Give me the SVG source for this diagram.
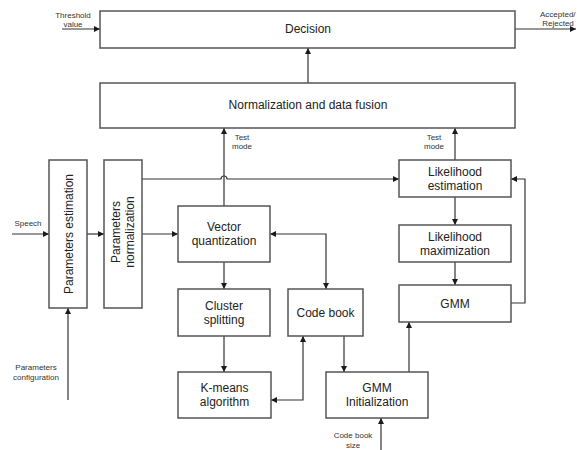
<svg xmlns="http://www.w3.org/2000/svg" width="577" height="450" viewBox="0 0 577 450">
  <defs>
    <marker id="arrow" viewBox="0 0 10 10" refX="10" refY="5" markerWidth="6" markerHeight="6" markerUnits="userSpaceOnUse" orient="auto-start-reverse">
      <path d="M0,0 L10,5 L0,10 Z" fill="#1a1a1a"/>
    </marker>
    <style>
      .box { fill: #ffffff; stroke: #555555; stroke-width: 1.5; }
      .line { fill: none; stroke: #333333; stroke-width: 1.2; }
      .lbl { font-family: "Liberation Sans", Arial, sans-serif; font-size: 12px; fill: #222222; text-anchor: middle; }
      .sm { font-family: "Liberation Sans", Arial, sans-serif; font-size: 8px; fill: #333333; text-anchor: middle; }
    </style>
  </defs>
  <rect width="577" height="450" fill="#ffffff"/>

  <!-- connectors -->
  <g id="connectors">
    <path class="line" d="M62,29 H100" marker-end="url(#arrow)"/>
    <path class="line" d="M515,29 H576" marker-end="url(#arrow)"/>
    <path class="line" d="M308,83 V48" marker-end="url(#arrow)"/>
    <path class="line" d="M224,206 V128" marker-end="url(#arrow)"/>
    <path class="line" d="M455,160 V128" marker-end="url(#arrow)"/>
    <path class="line" d="M12,234 H49" marker-end="url(#arrow)"/>
    <path class="line" d="M87,234 H104" marker-end="url(#arrow)"/>
    <path class="line" d="M142,234 H178" marker-end="url(#arrow)"/>
    <path class="line" d="M142,179 H221 A3,3 0 0 1 227,179 H399" marker-end="url(#arrow)"/>
    <path class="line" d="M455,197 V225" marker-end="url(#arrow)"/>
    <path class="line" d="M455,262 V285" marker-end="url(#arrow)"/>
    <path class="line" d="M511,303 H525 V179 H511" marker-end="url(#arrow)"/>
    <path class="line" d="M270,234 H326 V289" marker-start="url(#arrow)" marker-end="url(#arrow)"/>
    <path class="line" d="M224,262 V289" marker-end="url(#arrow)"/>
    <path class="line" d="M224,336 V372" marker-end="url(#arrow)"/>
    <path class="line" d="M271,400 H303 V336" marker-start="url(#arrow)" marker-end="url(#arrow)"/>
    <path class="line" d="M344,336 V372" marker-end="url(#arrow)"/>
    <path class="line" d="M409,372 V322" marker-end="url(#arrow)"/>
    <path class="line" d="M381,450 V418" marker-end="url(#arrow)"/>
    <path class="line" d="M68,400 V308" marker-end="url(#arrow)"/>
  </g>

  <!-- free labels on connectors -->
  <g id="io-labels">
    <text class="sm" x="73" y="18">Threshold</text>
    <text class="sm" x="73" y="27">value</text>
    <text class="sm" x="540" y="17" style="text-anchor:start">Accepted/</text>
    <text class="sm" x="558" y="26">Rejected</text>
    <text class="sm" x="242" y="140">Test</text>
    <text class="sm" x="242" y="149">mode</text>
    <text class="sm" x="434" y="140">Test</text>
    <text class="sm" x="434" y="149">mode</text>
    <text class="sm" x="28" y="226">Speech</text>
    <text class="sm" x="36" y="370">Parameters</text>
    <text class="sm" x="36" y="380">configuration</text>
    <text class="sm" x="353" y="438">Code book</text>
    <text class="sm" x="353" y="448">size</text>
  </g>

  <g id="decision">
    <rect class="box" x="100" y="11" width="415" height="37"/>
    <text class="lbl" x="308" y="33">Decision</text>
  </g>
  <g id="fusion">
    <rect class="box" x="100" y="83" width="415" height="45"/>
    <text class="lbl" x="308" y="109">Normalization and data fusion</text>
  </g>
  <g id="param-estimation">
    <rect class="box" x="49" y="160" width="38" height="148"/>
    <text class="lbl" transform="translate(72.5,234) rotate(-90)">Parameters estimation</text>
  </g>
  <g id="param-normalization">
    <rect class="box" x="104" y="160" width="38" height="148"/>
    <text class="lbl" transform="translate(119.5,232) rotate(-90)">Parameters</text>
    <text class="lbl" transform="translate(134,232) rotate(-90)">normalization</text>
  </g>
  <g id="vector-quantization">
    <rect class="box" x="178" y="206" width="92" height="56"/>
    <text class="lbl" x="224" y="231">Vector</text>
    <text class="lbl" x="224" y="245">quantization</text>
  </g>
  <g id="cluster-splitting">
    <rect class="box" x="178" y="289" width="92" height="47"/>
    <text class="lbl" x="224" y="309.5">Cluster</text>
    <text class="lbl" x="224" y="323.5">splitting</text>
  </g>
  <g id="kmeans">
    <rect class="box" x="178" y="372" width="93" height="46"/>
    <text class="lbl" x="224.5" y="392">K-means</text>
    <text class="lbl" x="224.5" y="406">algorithm</text>
  </g>
  <g id="code-book">
    <rect class="box" x="288" y="289" width="75" height="47"/>
    <text class="lbl" x="325.5" y="316.5">Code book</text>
  </g>
  <g id="gmm-init">
    <rect class="box" x="326" y="372" width="102" height="46"/>
    <text class="lbl" x="377" y="392">GMM</text>
    <text class="lbl" x="377" y="406">Initialization</text>
  </g>
  <g id="likelihood-estimation">
    <rect class="box" x="399" y="160" width="112" height="37"/>
    <text class="lbl" x="455" y="176">Likelihood</text>
    <text class="lbl" x="455" y="190">estimation</text>
  </g>
  <g id="likelihood-maximization">
    <rect class="box" x="399" y="225" width="112" height="37"/>
    <text class="lbl" x="455" y="241">Likelihood</text>
    <text class="lbl" x="455" y="255">maximization</text>
  </g>
  <g id="gmm">
    <rect class="box" x="399" y="285" width="112" height="37"/>
    <text class="lbl" x="455" y="307.5">GMM</text>
  </g>
</svg>
